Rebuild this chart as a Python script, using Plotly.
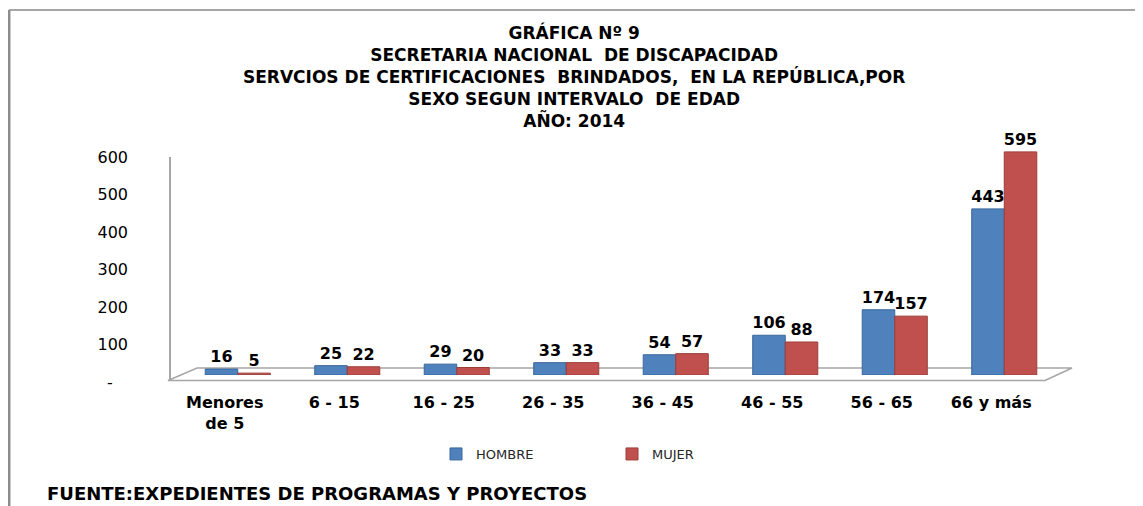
import plotly.graph_objects as go

categorias = ["Menores<br>de 5", "6 - 15", "16 - 25", "26 - 35", "36 - 45", "46 - 55", "56 - 65", "66 y más"]
hombre = [16, 25, 29, 33, 54, 106, 174, 443]
mujer = [5, 22, 20, 33, 57, 88, 157, 595]
y_ticks = [0, 100, 200, 300, 400, 500, 600]
y_tick_labels = ["-\u00a0\u00a0\u00a0", "100", "200", "300", "400", "500", "600"]

titulo = [
    "GRÁFICA Nº 9",
    "SECRETARIA NACIONAL  DE DISCAPACIDAD",
    "SERVCIOS DE CERTIFICACIONES  BRINDADOS,  EN LA REPÚBLICA,POR",
    "SEXO SEGUN INTERVALO  DE EDAD",
    "AÑO: 2014",
]
fuente = "FUENTE:EXPEDIENTES DE PROGRAMAS Y PROYECTOS"

# page has an 8px body margin; figure fills the rest of the 1143x506 window
OFF = 8
W, H = 1143 - OFF, 506 - OFF
L, R, T, B = 175, 84, 142, 131
PW, PH = W - L - R, H - T - B


def px(x):
    """page pixel x -> paper"""
    return (x - OFF - L) / PW


def py(y):
    """page pixel y -> paper"""
    return (H - B - (y - OFF)) / PH


BLUE = "#4F81BD"
RED = "#C0504D"
label_font = dict(family="DejaVu Sans", size=16, color="#000000", weight="bold")

fig = go.Figure()
fig.add_trace(go.Bar(
    x=categorias, y=hombre, name="HOMBRE",
    marker=dict(color=BLUE, line=dict(color="#3b679c", width=1)),
    text=hombre, textposition="outside", cliponaxis=False, constraintext="none",
    textfont=label_font,
))
fig.add_trace(go.Bar(
    x=categorias, y=mujer, name="MUJER",
    marker=dict(color=RED, line=dict(color="#9c3d3a", width=1)),
    text=mujer, textposition="outside", cliponaxis=False, constraintext="none",
    textfont=label_font,
))

shapes = [
    # floor
    dict(type="path", xref="paper", yref="paper",
         path=f"M {px(168)},{py(380.5)} L {px(1045)},{py(380.5)} L {px(1072)},{py(368)} L {px(197)},{py(368)} Z",
         line=dict(color="#a6a6a6", width=1.5), fillcolor="#ffffff", layer="below"),
    # vertical axis line
    dict(type="line", xref="paper", yref="paper", x0=px(170), x1=px(170), y0=py(157), y1=py(380.5),
         line=dict(color="#a6a6a6", width=2), layer="below"),
    # outer border
    dict(type="line", xref="paper", yref="paper", x0=px(9), x1=px(1143), y0=py(10), y1=py(10),
         line=dict(color="#a6a6a6", width=2)),
    dict(type="line", xref="paper", yref="paper", x0=px(9.2), x1=px(9.2), y0=py(10), y1=py(506),
         line=dict(color="#8c8c8c", width=2.5)),
]

annotations = [
    dict(
        text="<br>".join(titulo), xref="paper", yref="paper", x=px(574), y=py(77),
        xanchor="center", yanchor="middle", align="center", showarrow=False,
        font=dict(family="DejaVu Sans", size=17, color="#000000", weight="bold"),
    ),
    dict(
        text=fuente, xref="paper", yref="paper", x=px(45), y=py(493),
        xanchor="left", yanchor="middle", showarrow=False,
        font=dict(family="DejaVu Sans", size=18, color="#000000", weight="bold"),
    ),
]

fig.update_layout(
    width=W, height=H,
    margin=dict(l=L, r=R, t=T, b=B, autoexpand=False),
    paper_bgcolor="#ffffff", plot_bgcolor="#ffffff",
    barmode="group", bargap=0.406, bargroupgap=0,
    showlegend=True,
    legend=dict(orientation="h", x=px(436), y=py(454), xanchor="left", yanchor="middle",
                entrywidth=131, entrywidthmode="pixels",
                font=dict(family="DejaVu Sans", size=13, color="#262626"),
                bgcolor="rgba(0,0,0,0)"),
    shapes=shapes,
    annotations=annotations,
    xaxis=dict(
        showgrid=False, zeroline=False, showline=False, ticks="",
        tickfont=dict(family="DejaVu Sans", size=16, color="#000000", weight="bold"),
        ticklabelshift=-13, ticklabelstandoff=16, fixedrange=True,
    ),
    yaxis=dict(
        range=[0, 600], showgrid=False, zeroline=False, showline=False, ticks="",
        tickvals=y_ticks, ticktext=y_tick_labels,
        tickfont=dict(family="DejaVu Sans", size=16, color="#000000"),
        ticklabelshift=7, ticklabelstandoff=54, fixedrange=True,
    ),
)

fig.write_html("out.html")
